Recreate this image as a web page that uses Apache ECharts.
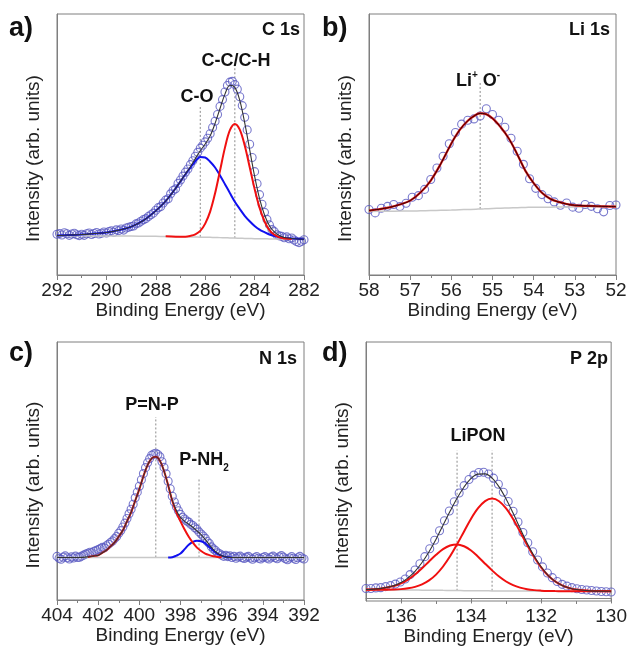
<!DOCTYPE html>
<html>
<head>
<meta charset="utf-8">
<script src="https://cdn.jsdelivr.net/npm/echarts@6/dist/echarts.min.js"></script>
<style>
  html, body { margin: 0; background: #fff; }
  #chart { width: 630px; height: 649px; }
</style>
</head>
<body>
<div id="chart"></div>
<script>
// ---- a) C 1s ----
var aStart = 292, aStep = 0.1;
var aCounts = [15.6, 15.9, 15.3, 16.2, 15.8, 15.2, 15.7, 16.0, 15.4, 15.1, 15.6,
  15.2, 15.8, 16.1, 15.5, 15.9, 16.3, 15.7, 16.0, 16.5, 16.1,
  16.6, 16.9, 16.4, 17.3, 17.0, 17.6, 17.2, 18.0, 18.3, 18.6,
  18.8, 19.6, 19.9, 20.6, 21.2, 21.6, 22.4, 23.1, 23.7, 24.8,
  25.8, 26.2, 27.6, 28.7, 29.2, 31.1, 32.4, 33.0, 35.1, 36.4,
  37.9, 39.4, 40.6, 42.3, 43.8, 45.5, 47.0, 48.6, 49.7, 51.0,
  52.4, 54.1, 56.5, 58.9, 61.5, 64.6, 67.2, 70.1, 72.6, 73.9,
  74.2, 73.0, 71.2, 68.3, 64.9, 60.4, 55.6, 50.1, 45.0, 39.6,
  35.0, 30.8, 27.1, 24.0, 21.3, 19.2, 17.4, 16.6, 15.4, 15.0,
  14.8, 14.3, 14.6, 13.9, 14.2, 13.4, 12.8, 12.4, 12.9, 13.5];
var aFitE = [292, 291.5, 291, 290.5, 290, 289.5, 289, 288.5, 288, 287.6, 287.2, 286.8, 286.6, 286.4, 286.2, 286.0, 285.8,
  285.6, 285.4, 285.2, 285.0, 284.8, 284.6, 284.4, 284.2, 284.0, 283.8, 283.6, 283.4, 283.2, 283.0, 282.8, 282.5, 282];
var aBase = [15.0, 15.0, 15.0, 14.95, 14.9, 14.9, 14.9, 14.85, 14.8, 14.76, 14.72, 14.62, 14.6, 14.56, 14.5, 14.5, 14.44,
  14.38, 14.32, 14.26, 14.2, 14.14, 14.08, 14.02, 13.96, 13.9, 13.88, 13.86, 13.84, 13.82, 13.8, 13.78, 13.75, 13.7];
var aBlue = [15.1, 15.3, 15.5, 15.9, 16.3, 17.2, 18.5, 20.9, 24.6, 28.3, 33.2, 38.6, 41.1, 43.6, 45.2, 45.0, 43.4,
  41.2, 38.1, 34.8, 31.4, 28.1, 25.3, 22.7, 20.6, 18.8, 17.4, 16.4, 15.5, 14.9, 14.5, 14.2, 14.0, 13.7];
var aRed = [null, null, null, null, null, null, null, null, null, 14.8, 14.7, 14.7, 15.0, 15.6, 16.9, 19.7, 24.3,
  31.3, 40.0, 48.8, 55.5, 57.9, 55.7, 49.6, 41.4, 33.0, 25.8, 20.6, 17.2, 15.4, 14.4, 14.0, 13.8, null];
var aEnv = [15.1, 15.3, 15.5, 15.9, 16.3, 17.2, 18.5, 20.9, 24.6, 28.3, 33.2, 38.7, 41.5, 44.6, 47.6, 50.2, 53.3,
  58.1, 63.8, 69.3, 72.7, 71.9, 66.9, 58.3, 48.0, 37.9, 29.3, 23.1, 18.9, 16.5, 15.1, 14.4, 14.0, 13.7];
var aPeaks = [[286.2, 14.6, 64.4], [284.8, 14.1, 80.5]];
var aMajor = [282, 284, 286, 288, 290, 292];
var aMinor = [283, 285, 287, 289, 291];

// ---- b) Li 1s ----
var bStart = 58, bStep = 0.15;
var bCounts = [25.1, 23.8, 25.6, 26.3, 27.0, 26.2, 27.5, 29.8, 30.4, 32.8, 36.6, 41.0, 45.5, 50.3, 54.6, 57.8, 59.3,
  59.8, 60.9, 63.7, 61.5, 59.3, 56.6, 52.4, 47.4, 42.4, 36.9, 33.2, 30.8, 29.2, 28.0, 26.7, 27.6, 26.0, 25.6, 27.0,
  26.3, 25.4, 24.2, 26.6, 26.8];
var bFitE = [58, 57.75, 57.5, 57.25, 57.0, 56.75, 56.5, 56.25, 56.0, 55.8, 55.6, 55.4, 55.3, 55.2, 55.0, 54.8, 54.6,
  54.4, 54.2, 54.0, 53.8, 53.6, 53.4, 53.2, 53.0, 52.5, 52];
var bBase = [24.3, 24.4, 24.4, 24.5, 24.5, 24.6, 24.7, 24.8, 24.9, 25.0, 25.1, 25.2, 25.3, 25.35, 25.5, 25.6, 25.7,
  25.8, 25.9, 26.0, 26.0, 26.0, 26.05, 26.1, 26.1, 26.15, 26.2];
var bFit = [24.7, 25.2, 25.9, 27.0, 28.5, 31.6, 36.2, 42.8, 50.4, 55.5, 59.1, 61.4, 61.9, 61.8, 60.0, 56.6, 52.2,
  46.3, 39.9, 35.2, 31.5, 29.2, 28.0, 27.2, 26.7, 26.4, 26.2];
var bPeaks = [[55.3, 25.3, 73.9]];
var bMajor = [52, 53, 54, 55, 56, 57, 58];
var bMinor = [52.5, 53.5, 54.5, 55.5, 56.5, 57.5];

// ---- c) N 1s ----
var cStart = 404, cStep = 0.1;
var cCounts = [16.9, 16.2, 15.8, 16.6, 17.1, 16.4, 15.9, 16.7, 16.3, 17.0, 16.5,
  16.6, 17.0, 17.4, 17.8, 18.1, 18.5, 18.3, 18.9, 19.2, 19.6,
  19.9, 20.4, 20.2, 21.0, 21.6, 22.3, 22.9, 23.8, 24.6, 25.9,
  26.9, 28.3, 29.8, 31.6, 33.4, 35.2, 37.1, 39.6, 41.8, 44.1,
  46.6, 49.0, 51.3, 53.2, 54.8, 56.1, 56.6, 56.9, 56.4, 55.5,
  53.6, 51.4, 48.9, 46.0, 43.1, 40.2, 38.0, 36.1, 34.6, 33.2,
  32.1, 31.4, 30.6, 30.2, 29.3, 28.9, 28.0, 27.4, 26.4, 25.6,
  24.8, 23.9, 22.7, 21.9, 20.6, 19.8, 19.2, 18.3, 17.9, 17.4,
  16.9, 17.3, 16.8, 17.1, 16.5, 16.9, 16.2, 16.7, 17.0, 16.4,
  16.1, 16.6, 16.9, 16.3, 15.8, 16.4, 16.8, 16.2, 15.9, 16.5,
  16.8, 16.3, 15.9, 16.6, 17.0, 16.4, 16.0, 16.7, 17.2, 16.6,
  16.0, 15.6, 16.3, 16.8, 16.2, 15.7, 16.4, 16.9, 16.3, 15.9];
var cFitE = [404, 403, 402.5, 402.2, 402.0, 401.8, 401.6, 401.4, 401.2, 401.0, 400.8, 400.6, 400.4, 400.2, 400.0,
  399.8, 399.6, 399.4, 399.2, 399.0, 398.8, 398.6, 398.4, 398.2, 398.0, 397.8, 397.6, 397.4, 397.2, 397.0, 396.8,
  396.6, 396.4, 396.2, 396.0, 395.8, 395.5, 395, 394, 393, 392];
var cBaseE = [404, 392];
var cBase = [16.5, 16.5];
var cRed = [null, null, 16.7, 17.1, 17.3, 18.3, 19.3, 20.8, 22.3, 24.6, 27.0, 30.5, 34.0, 38.5, 43.0,
  48.0, 52.3, 54.9, 55.5, 54.0, 50.0, 44.5, 38.5, 34.0, 30.5, 27.3, 24.5, 22.2, 20.3, 19.0, 18.0,
  17.4, 16.95, 16.7, 16.6, null, null, null, null, null, null];
var cBlue = [null, null, null, null, null, null, null, null, null, null, null, null, null, null, null,
  null, null, null, null, null, null, 16.5, 16.6, 17.2, 18.0, 19.7, 21.4, 22.5, 23.0, 22.8, 22.0,
  20.5, 19.1, 17.9, 17.1, 16.7, 16.5, null, null, null, null];
var cEnv = [16.5, 16.5, 16.7, 17.1, 17.3, 18.3, 19.3, 20.8, 22.3, 24.6, 27.0, 30.5, 34.0, 38.5, 43.0,
  48.0, 52.3, 54.9, 55.5, 54.0, 50.0, 44.5, 38.6, 34.7, 32.0, 30.5, 29.4, 28.2, 26.8, 25.3, 23.5,
  21.4, 19.55, 18.1, 17.2, 16.7, 16.5, 16.5, 16.5, 16.5, 16.5];
var cPeaks = [[399.2, 16.5, 70.9], [397.1, 16.5, 47.3]];
var cMajor = [392, 394, 396, 398, 400, 402, 404];
var cMinor = [393, 395, 397, 399, 401, 403];

// ---- d) P 2p ----
var dStart = 137, dStep = 0.14;
var dCounts = [3.9, 3.9, 4.1, 4.2, 4.6, 5.0, 5.6, 6.4, 7.6, 9.3, 11.1, 13.5, 16.3, 19.4, 22.7, 26.4, 30.3, 34.1,
  37.7, 41.1, 44.0, 46.4, 48.1, 49.1, 49.2, 48.5, 46.9, 44.5, 41.4, 37.8, 34.0, 29.8, 25.7, 21.7, 18.2, 15.0,
  12.3, 9.9, 8.1, 6.6, 5.5, 4.8, 4.2, 3.8, 3.5, 3.3, 3.1, 2.9, 2.7, 2.6, 2.5];
var dFitE = [137, 136.6, 136.2, 136.0, 135.8, 135.6, 135.4, 135.2, 135.0, 134.8, 134.6, 134.4, 134.2, 134.0, 133.8,
  133.6, 133.4, 133.2, 133.0, 132.8, 132.6, 132.4, 132.2, 132.0, 131.8, 131.6, 131.4, 131.2, 131.0, 130.6, 130];
var dBase = [3.4, 3.36, 3.32, 3.3, 3.28, 3.26, 3.24, 3.22, 3.2, 3.16, 3.12, 3.08, 3.04, 3.0, 2.98,
  2.96, 2.94, 2.92, 2.9, 2.89, 2.88, 2.87, 2.86, 2.85, 2.84, 2.83, 2.82, 2.81, 2.8, 2.8, 2.8];
var dRed1 = [3.4, 3.39, 3.48, 3.63, 3.95, 4.52, 5.5, 7.02, 9.3, 12.46, 16.42, 21.08, 26.14, 31.1, 35.18,
  37.96, 38.94, 37.92, 35.1, 30.99, 25.98, 20.87, 16.16, 12.15, 8.94, 6.63, 5.08, 4.07, 3.47, 2.96, 2.8];
var dRed2 = [3.5, 3.8, 4.83, 5.86, 7.35, 9.33, 11.74, 14.42, 17.0, 19.26, 20.67, 21.08, 20.34, 18.7, 16.28,
  13.56, 10.94, 8.52, 6.6, 5.19, 4.23, 3.61, 3.24, 3.04, 2.92, 2.86, 2.82, 2.81, 2.8, 2.8, 2.8];
var dEnv = [3.5, 3.83, 4.99, 6.19, 8.02, 10.59, 14.0, 18.22, 23.1, 28.56, 33.97, 39.08, 43.44, 46.8, 48.48,
  48.56, 46.94, 43.52, 38.8, 33.29, 27.33, 21.61, 16.54, 12.34, 9.02, 6.66, 5.08, 4.07, 3.47, 2.96, 2.8];
var dPeaks = [[134.4, 3.0, 57.7], [133.4, 3.0, 57.7]];
var dMajor = [130, 132, 134, 136];
var dMinor = [131, 133, 135];

var FONT = '"Liberation Sans", Arial, sans-serif';
var FRAME = '#7f7f7f';
var CIRCLE = '#5858c0';

function pairs(xs, ys) {
  return xs.map(function (x, i) { return [x, ys[i] == null ? '-' : ys[i]]; });
}
function scan(start, step, ys) {
  return ys.map(function (v, i) { return [+(start - step * i).toFixed(3), v]; });
}

var panels = [
  { grid: { left: 57, top: 14, width: 247, height: 261 }, range: [282, 292], ymin: 0, ymax: 100,
    major: aMajor, minor: aMinor,
    counts: scan(aStart, aStep, aCounts), peaks: aPeaks,
    lines: [
      { d: pairs(aFitE, aBase), c: '#c8c8c8', w: 1.5 },
      { d: pairs(aFitE, aBlue), c: '#1010f0', w: 2 },
      { d: pairs(aFitE, aRed), c: '#f01010', w: 2 },
      { d: pairs(aFitE, aEnv), c: '#333333', w: 1.1 }
    ] },
  { grid: { left: 369, top: 14, width: 247, height: 261 }, range: [52, 58], ymin: 0, ymax: 100,
    major: bMajor, minor: bMinor,
    counts: scan(bStart, bStep, bCounts), peaks: bPeaks,
    lines: [
      { d: pairs(bFitE, bBase), c: '#c8c8c8', w: 1.5 },
      { d: pairs(bFitE, bFit), c: '#d01010', w: 2.2 },
      { d: pairs(bFitE, bFit), c: '#3a0000', w: 1 }
    ] },
  { grid: { left: 57, top: 342, width: 247, height: 258 }, range: [392, 404], ymin: 0, ymax: 100,
    major: cMajor, minor: cMinor,
    counts: scan(cStart, cStep, cCounts), peaks: cPeaks,
    lines: [
      { d: pairs(cBaseE, cBase), c: '#c8c8c8', w: 1.5 },
      { d: pairs(cFitE, cBlue), c: '#1010f0', w: 2 },
      { d: pairs(cFitE, cRed), c: '#f01010', w: 2 },
      { d: pairs(cFitE, cEnv), c: '#333333', w: 1.1 }
    ] },
  { grid: { left: 366, top: 342, width: 247, height: 259 }, range: [130, 137], ymin: -1, ymax: 100,
    major: dMajor, minor: dMinor,
    counts: scan(dStart, dStep, dCounts), peaks: dPeaks,
    lines: [
      { d: pairs(dFitE, dBase), c: '#c8c8c8', w: 1.5 },
      { d: pairs(dFitE, dRed1), c: '#f01010', w: 2 },
      { d: pairs(dFitE, dRed2), c: '#f01010', w: 2 },
      { d: pairs(dFitE, dEnv), c: '#333333', w: 1.1 }
    ] }
];

var grids = [], xAxes = [], yAxes = [], series = [];
panels.forEach(function (p, i) {
  grids.push(Object.assign({ show: true, borderColor: FRAME, borderWidth: 1, containLabel: false }, p.grid));
  xAxes.push({
    gridIndex: i, type: 'value', inverse: true, min: p.range[0], max: p.range[1],
    axisLine: { show: true, lineStyle: { color: FRAME, width: 1 } },
    axisTick: { show: true, customValues: p.major, length: 5, lineStyle: { color: FRAME } },
    axisLabel: { customValues: p.major, fontSize: 19, color: '#222', fontFamily: FONT, margin: 6 },
    splitLine: { show: false },
    name: 'Binding Energy (eV)', nameLocation: 'middle', nameGap: 21,
    nameTextStyle: { fontSize: 19, color: '#222', fontFamily: FONT }
  });
  xAxes.push({
    gridIndex: i, type: 'value', inverse: true, min: p.range[0], max: p.range[1], position: 'bottom', offset: 0,
    axisLine: { show: false },
    axisTick: { show: true, customValues: p.minor, length: 3, lineStyle: { color: FRAME } },
    axisLabel: { show: false }, splitLine: { show: false }
  });
  yAxes.push({
    gridIndex: i, type: 'value', min: p.ymin, max: p.ymax,
    axisLine: { show: true, lineStyle: { color: FRAME } },
    axisTick: { show: false }, axisLabel: { show: false }, splitLine: { show: false },
    name: 'Intensity (arb. units)', nameLocation: 'middle', nameGap: 14,
    nameTextStyle: { fontSize: 19, color: '#222', fontFamily: FONT, padding: [0, 28, 0, 0] }
  });
  var xi = i * 2;
  series.push({
    type: 'scatter', xAxisIndex: xi, yAxisIndex: i, data: p.counts, symbol: 'circle', symbolSize: 8,
    itemStyle: { color: 'rgba(0,0,0,0)', borderColor: CIRCLE, borderWidth: 1.1 }, silent: true, z: 2
  });
  p.peaks.forEach(function (pk) {
    series.push({
      type: 'line', xAxisIndex: xi, yAxisIndex: i, data: [[pk[0], pk[1]], [pk[0], pk[2]]],
      symbol: 'none', lineStyle: { color: '#8c8c8c', width: 1, type: [2, 2] }, silent: true, z: 1
    });
  });
  p.lines.forEach(function (l) {
    series.push({
      type: 'line', xAxisIndex: xi, yAxisIndex: i, data: l.d, symbol: 'none', smooth: 0.35,
      connectNulls: false, lineStyle: { color: l.c, width: l.w }, silent: true, z: 3
    });
  });
});

function txt(opt) {
  return Object.assign({ type: 'text', z: 100 }, opt);
}
var bold18 = 'bold 18px ' + FONT;
var graphics = [
  txt({ left: 9, top: 15, style: { text: 'a)', font: 'bold 27px ' + FONT, fill: '#111' } }),
  txt({ left: 322, top: 15, style: { text: 'b)', font: 'bold 27px ' + FONT, fill: '#111' } }),
  txt({ left: 9, top: 340, style: { text: 'c)', font: 'bold 27px ' + FONT, fill: '#111' } }),
  txt({ left: 322, top: 340, style: { text: 'd)', font: 'bold 27px ' + FONT, fill: '#111' } }),
  txt({ x: 300, y: 30, style: { text: 'C 1s', font: bold18, fill: '#111', align: 'right', verticalAlign: 'middle' } }),
  txt({ x: 610, y: 30, style: { text: 'Li 1s', font: bold18, fill: '#111', align: 'right', verticalAlign: 'middle' } }),
  txt({ x: 297, y: 359, style: { text: 'N 1s', font: bold18, fill: '#111', align: 'right', verticalAlign: 'middle' } }),
  txt({ x: 608, y: 359, style: { text: 'P 2p', font: bold18, fill: '#111', align: 'right', verticalAlign: 'middle' } }),
  txt({ x: 236, y: 61, style: { text: 'C-C/C-H', font: bold18, fill: '#111', align: 'center', verticalAlign: 'middle' } }),
  txt({ x: 197, y: 97, style: { text: 'C-O', font: bold18, fill: '#111', align: 'center', verticalAlign: 'middle' } }),
  txt({ x: 152, y: 405, style: { text: 'P=N-P', font: bold18, fill: '#111', align: 'center', verticalAlign: 'middle' } }),
  txt({ x: 478, y: 436, style: { text: 'LiPON', font: bold18, fill: '#111', align: 'center', verticalAlign: 'middle' } }),
  txt({ x: 478, y: 80, style: {
    text: '{b|Li}{s|+}{b| O}{s|-}', align: 'center', verticalAlign: 'middle',
    rich: {
      b: { font: bold18, fill: '#111', lineHeight: 20, verticalAlign: 'bottom' },
      s: { font: 'bold 10px ' + FONT, fill: '#111', lineHeight: 20, verticalAlign: 'top' }
    } } }),
  txt({ x: 204, y: 462, style: {
    text: '{b|P-NH}{s|2}', align: 'center', verticalAlign: 'middle',
    rich: {
      b: { font: bold18, fill: '#111', lineHeight: 22, verticalAlign: 'top' },
      s: { font: 'bold 10px ' + FONT, fill: '#111', lineHeight: 22, verticalAlign: 'bottom' }
    } } })
];

var chart = echarts.init(document.getElementById('chart'));
chart.setOption({
  backgroundColor: '#fff',
  animation: false,
  grid: grids,
  xAxis: xAxes,
  yAxis: yAxes,
  series: series,
  graphic: graphics
});
</script>
</body>
</html>
